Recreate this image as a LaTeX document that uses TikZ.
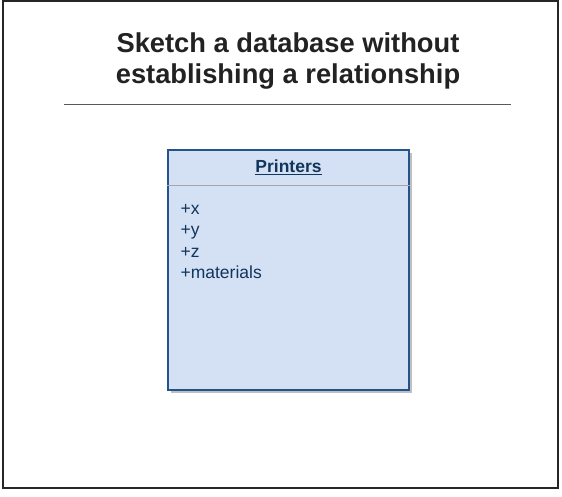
\documentclass[tikz,border=0pt]{standalone}
\usepackage{fontspec}
\setmainfont{Liberation Sans}
\usetikzlibrary{positioning,shadows}
\definecolor{classfill}{HTML}{D4E1F5}
\definecolor{classline}{HTML}{23538A}
\definecolor{classtext}{HTML}{12355B}
\definecolor{titletext}{HTML}{222222}
\begin{document}
\begin{tikzpicture}[x=1pt, y=-1pt,
    frame/.style = {draw=black!85, line width=1.3pt},
    title/.style = {align=center, inner sep=0pt, text=titletext,
        font=\fontsize{27.3}{31}\selectfont\bfseries},
    rule/.style = {draw=black!65, line width=1pt},
    classbox/.style = {draw=classline, fill=classfill, line width=1.3pt,
        minimum width=241pt, minimum height=240pt, inner sep=0pt,
        drop shadow={shadow xshift=3pt, shadow yshift=-3pt, fill=black!25, opacity=1}},
    header/.style = {inner sep=0pt, text=classtext, font=\fontsize{17.5}{21}\selectfont\bfseries},
    sep/.style = {draw=black!35, line width=1pt},
    attrs/.style = {align=left, inner sep=0pt, text=classtext,
        font=\fontsize{17.5}{21.3}\selectfont}]
    \useasboundingbox (0,0) rectangle (562,496);
    \draw[frame] (3,1) rectangle (558,488);
    \node[title, anchor=north] (title) at (288,32.5) {Sketch a database without\\establishing a relationship};
    \draw[rule] (64,104) -- (511,104);
    \node[classbox] (printers) at (288.5,270) {};
    \node[header, anchor=base] (name) at ([yshift=-23pt]printers.north) {\underline{Printers}};
    \draw[sep] ([yshift=-36pt]printers.north west) -- ([yshift=-36pt]printers.north east);
    \node[attrs, anchor=north west] (fields) at ([xshift=13pt, yshift=-55pt]printers.north west) {+x\\+y\\+z\\+materials};
\end{tikzpicture}
\end{document}
